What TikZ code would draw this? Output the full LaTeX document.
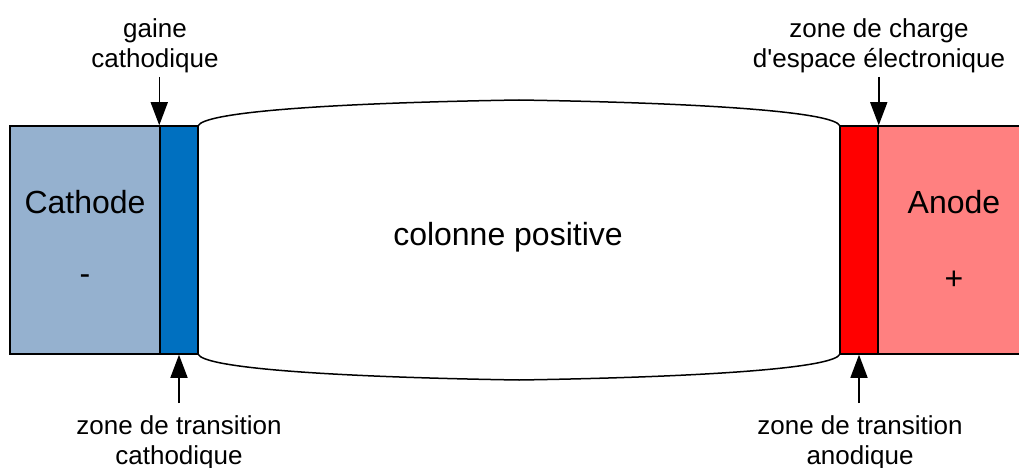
\documentclass[tikz,border=0pt]{standalone}
\usepackage{fontspec}
\setmainfont{Liberation Sans}
\usetikzlibrary{arrows.meta}

\definecolor{cathcol}{RGB}{149,177,207}
\definecolor{gainecol}{RGB}{0,112,192}
\definecolor{zcecol}{RGB}{255,0,0}
\definecolor{anodecol}{RGB}{255,128,128}

\tikzset{
  zone/.style={draw, line width=1.5pt, minimum height=228pt, inner sep=0pt},
  big/.style={font=\fontsize{32}{36}\selectfont, inner sep=0pt},
  lbl/.style={font=\fontsize{26}{30}\selectfont, align=center, inner sep=0pt},
  pointer/.style={-{Triangle[width=17pt,length=23pt]}, line width=1.5pt},
}

\begin{document}
\begin{tikzpicture}[x=1pt, y=-1pt]
\clip (0,0) rectangle (1019,468);

% colonne positive
\draw[line width=1.5pt, fill=white] (198,126)
  .. controls (203,112) and (330,103) .. (519,100)
  .. controls (708,103) and (835,112) .. (840,126) -- (840,354)
  .. controls (835,368) and (708,377) .. (519,380)
  .. controls (330,377) and (203,368) .. (198,354) -- cycle;
\node[big] (col) at (508,237) {colonne positive};

% cathode
\node[zone, fill=cathcol, minimum width=150pt] (cathode) at (85,240) {};
\node[big] (cath-t) at (85,202) {Cathode};
\node[big] (cath-s) at (85,280) {-};
\node[zone, fill=gainecol, minimum width=38pt] (gaine) at (179,240) {};

% anode
\node[zone, fill=anodecol, minimum width=162pt] (anode) at (959,240) {};
\node[big] (an-t) at (954,202) {Anode};
\node[big] (an-s) at (954,280) {+};
\node[zone, fill=zcecol, minimum width=38pt] (zce) at (859,240) {};

% labels
\node[lbl, anchor=south] (gaine-l) at (155,73) {gaine\\cathodique};
\draw[pointer, shorten <=4pt] (gaine-l.south -| gaine.north west) -- (gaine.north west);

\node[lbl, anchor=south] (zce-l) at (879,73) {zone de charge\\d\textquotesingle espace électronique};
\draw[pointer, shorten <=4pt] (zce-l.south -| zce.north east) -- (zce.north east);

\node[lbl, anchor=north] (tcath-l) at (179,415) {zone de transition\\cathodique};
\draw[pointer, shorten <=12pt] (tcath-l.north -| gaine.south) -- (gaine.south);

\node[lbl, anchor=north] (tan-l) at (860,415) {zone de transition\\anodique};
\draw[pointer, shorten <=12pt] (tan-l.north -| zce.south) -- (zce.south);
\end{tikzpicture}
\end{document}
